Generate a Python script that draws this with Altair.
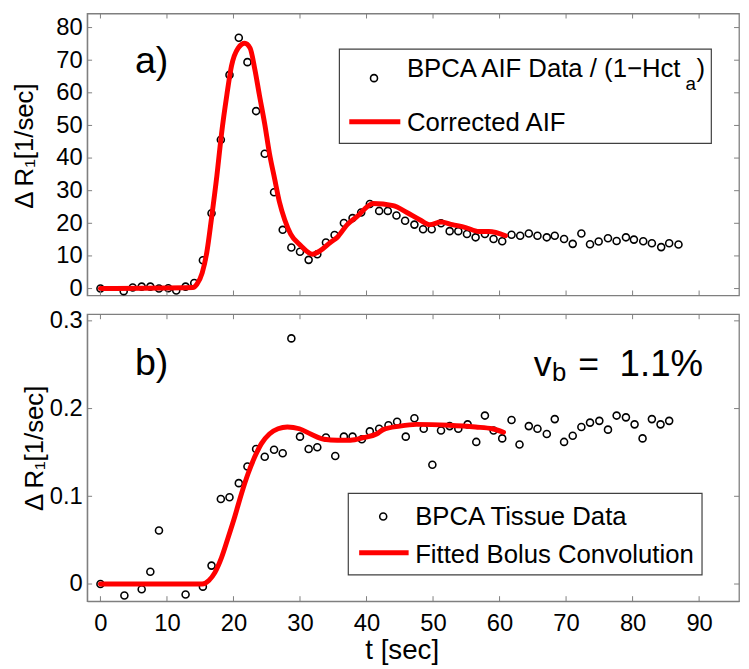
import altair as alt
import pandas as pd

# ---------------- data ----------------
t_aif = [0, 3.5, 4.85, 6.2, 7.5, 8.8, 10.2, 11.4, 12.8, 14.1,
         15.4, 16.7, 18.1, 19.4, 20.8, 22.1, 23.4, 24.7, 26.1, 27.4,
         28.7, 30.0, 31.3, 32.6, 33.9, 35.2, 36.6, 37.9, 39.2, 40.5,
         41.9, 43.2, 44.5, 45.8, 47.2, 48.5, 49.8, 51.2, 52.5, 53.8,
         55.1, 56.4, 57.8, 59.1, 60.4, 61.8, 63.1, 64.4, 65.7, 67.1,
         68.3, 69.7, 71.0, 72.3, 73.6, 74.9, 76.3, 77.6, 79.0, 80.2,
         81.6, 82.9, 84.3, 85.5, 86.9]
v_aif = [0, -0.8, 0.3, 0.6, 0.6, 0, 0.1, -0.6, 0.6, 1.7,
         8.7, 23.1, 45.6, 65.5, 76.9, 69.4, 54.4, 41.3, 29.5, 18.0,
         12.6, 11.3, 8.8, 10.5, 14.1, 16.4, 20.1, 21.6, 23.3, 25.9,
         23.8, 23.8, 22.4, 20.8, 19.6, 18.2, 18.2, 20.0, 17.6, 17.6,
         16.7, 15.7, 16.7, 15.2, 14.5, 16.5, 16.2, 16.9, 16.2, 15.7,
         16.2, 15.2, 13.7, 16.9, 13.6, 14.4, 15.4, 14.6, 15.7, 15.0,
         14.5, 13.9, 12.7, 13.9, 13.5]

t_fit = [0, 13.9, 14.5, 15.3, 16.0, 16.7, 17.5, 18.2, 19.0, 19.7,
         20.7, 21.7, 22.5, 23.2, 23.9, 24.7, 25.4, 26.2, 26.9, 27.7,
         28.6, 30.1, 31.9, 33.1, 34.6, 35.6, 37.1, 38.6, 41.0, 44.0,
         46.0, 48.0, 49.5, 51.2, 52.9, 54.9, 56.9, 58.4, 60.9]
v_fit = [0, 0.3, 1.3, 4.8, 11.2, 21.6, 34.5, 47.4, 59.3, 68.2,
         73.7, 75.2, 73.7, 67.3, 59.3, 50.4, 41.5, 33.5, 26.6, 21.1,
         16.7, 13.2, 10.5, 11.7, 14.2, 15.7, 19.6, 22.1, 26.1, 25.4,
         23.4, 21.1, 19.6, 20.4, 19.6, 18.7, 17.5, 17.5, 16.2]

t_tis = [0, 3.6, 6.2, 7.5, 8.8, 12.8, 15.4, 16.7, 18.1, 19.4,
         20.8, 22.1, 23.4, 24.7, 26.1, 27.4, 28.7, 30.0, 31.3, 32.6,
         33.9, 35.3, 36.6, 37.9, 39.3, 40.5, 41.9, 43.3, 44.6, 45.9,
         47.2, 48.6, 49.9, 51.2, 52.5, 53.8, 55.2, 56.5, 57.8, 59.1,
         60.4, 61.8, 63.0, 64.4, 65.7, 67.1, 68.3, 69.7, 71.0, 72.3,
         73.6, 75.0, 76.3, 77.6, 79.0, 80.3, 81.5, 82.9, 84.2, 85.5]
v_tis = [0, -0.013, -0.006, 0.014, 0.061, -0.012, -0.003, 0.021, 0.097, 0.099,
         0.115, 0.134, 0.154, 0.145, 0.153, 0.149, 0.280, 0.168, 0.154, 0.156,
         0.167, 0.146, 0.168, 0.168, 0.165, 0.174, 0.177, 0.181, 0.185, 0.168,
         0.189, 0.177, 0.136, 0.175, 0.180, 0.177, 0.182, 0.162, 0.192, 0.175,
         0.166, 0.187, 0.159, 0.180, 0.177, 0.171, 0.188, 0.162, 0.169, 0.179,
         0.184, 0.186, 0.176, 0.192, 0.190, 0.182, 0.166, 0.188, 0.182, 0.186]

t_bc = [0, 15.3, 16.3, 17.2, 18.2, 19.2, 20.2, 21.2, 22.2, 23.2,
        24.2, 25.4, 26.7, 28.1, 29.9, 31.6, 33.6, 35.6, 37.6, 39.6,
        41.5, 42.5, 45.0, 47.5, 52.4, 56.4, 58.9, 60.6]
v_bc = [0, 0, 0.004, 0.013, 0.030, 0.053, 0.077, 0.103, 0.126, 0.145,
        0.160, 0.171, 0.177, 0.179, 0.177, 0.171, 0.165, 0.164, 0.164, 0.167,
        0.171, 0.176, 0.180, 0.182, 0.181, 0.179, 0.177, 0.173]

x_ticks = [0, 10, 20, 30, 40, 50, 60, 70, 80, 90]
y_ticks_a = [0, 10, 20, 30, 40, 50, 60, 70, 80]
y_ticks_b = [0, 0.1, 0.2, 0.3]

legend_a = ["BPCA AIF Data / (1\u2212Hct", "a", ")", "Corrected AIF"]
legend_b = ["BPCA Tissue Data", "Fitted Bolus Convolution"]
y_title = "\u0394\u2009R\u2081[1/sec]"
x_title = "t [sec]"

# ---------------- styling ----------------
W = 659
H_A = 285
H_B = 290
GREY = "#7f7f7f"
BOX = "#404040"
RED = "#ff0000"
FONT = "Liberation Sans"
X_DOM = [-2, 96]
PT_SIZE = 50
ONE = pd.DataFrame({"k": [0]})


def txt(s, x, y, size, align="left", baseline="alphabetic"):
    return alt.Chart(ONE).mark_text(
        text=s, font=FONT, fontSize=size, align=align, baseline=baseline, color="black"
    ).encode(x=alt.value(x), y=alt.value(y))


def panel(t_pts, v_pts, t_line, v_line, ydom, yticks, yfmt, H, show_x, ytx, yty, extras):
    xs = alt.Scale(domain=X_DOM, nice=False, zero=False)
    ys = alt.Scale(domain=ydom, nice=False, zero=False)
    pts = pd.DataFrame({"t": t_pts, "v": v_pts})
    fit = pd.DataFrame({"t": t_line, "v": v_line})
    if show_x:
        xaxis = alt.Axis(values=x_ticks, format="d", labelPadding=11, title=x_title,
                         titleFontSize=28, titleX=318, titleY=50, titleBaseline="middle",
                         titleAlign="center")
    else:
        xaxis = None
    yaxis = alt.Axis(values=yticks, format=yfmt, title=y_title, titleFontSize=26,
                     titleX=ytx, titleY=yty, titleAngle=270, titleBaseline="middle",
                     titleAlign="center")
    X = alt.X("t:Q", scale=xs, axis=xaxis)
    Y = alt.Y("v:Q", scale=ys, axis=yaxis)
    points = alt.Chart(pts).mark_point(
        shape="circle", filled=False, size=PT_SIZE, strokeWidth=1.6, color="black", opacity=1
    ).encode(x=X, y=Y)
    line = alt.Chart(fit).mark_line(
        color=RED, strokeWidth=5, interpolate="monotone", strokeCap="round", strokeJoin="round"
    ).encode(x=X, y=Y)
    xt = pd.DataFrame({"t": x_ticks})
    yt = pd.DataFrame({"v": yticks})
    xtick_b = alt.Chart(xt).mark_rule(color=GREY, strokeWidth=1).encode(
        x=X, y=alt.value(H), y2=alt.value(H - 5))
    xtick_t = alt.Chart(xt).mark_rule(color=GREY, strokeWidth=1).encode(
        x=X, y=alt.value(0), y2=alt.value(5))
    ytick_l = alt.Chart(yt).mark_rule(color=GREY, strokeWidth=1).encode(
        y=Y, x=alt.value(0), x2=alt.value(5))
    ytick_r = alt.Chart(yt).mark_rule(color=GREY, strokeWidth=1).encode(
        y=Y, x=alt.value(W), x2=alt.value(W - 5))
    return alt.layer(points, line, xtick_b, xtick_t, ytick_l, ytick_r, *extras).properties(
        width=W, height=H)


def legend(box, circ, redline):
    rect = alt.Chart(ONE).mark_rect(fill="white", stroke=BOX, strokeWidth=1.2).encode(
        x=alt.value(box[0]), x2=alt.value(box[1]), y=alt.value(box[2]), y2=alt.value(box[3]))
    c = alt.Chart(ONE).mark_point(shape="circle", filled=False, size=PT_SIZE, strokeWidth=1.6,
                                  color="black", opacity=1).encode(
        x=alt.value(circ[0]), y=alt.value(circ[1]))
    r = alt.Chart(ONE).mark_rule(color=RED, strokeWidth=5).encode(
        x=alt.value(redline[0]), x2=alt.value(redline[1]), y=alt.value(redline[2]))
    return [rect, c, r]


# ---- panel a ----
extras_a = legend((255, 631, 36, 131.3), (290, 65.3), (265, 316.6, 109.3))
extras_a += [
    txt(legend_a[0], 323.3, 64.6, 26),
    txt(legend_a[1], 605, 77, 19),
    txt(legend_a[2], 616, 64.6, 26),
    txt(legend_a[3], 323.3, 118.6, 26),
    txt("a)", 48.3, 60.3, 38),
]
top = panel(t_aif, v_aif, t_fit, v_fit, [-2.12, 84.3], y_ticks_a, "d", H_A, False, -63, 133.5,
            extras_a)

# ---- panel b ----
extras_b = legend((264, 621.6, 181, 263.4), (299.3, 204.4), (275, 325, 241))
extras_b += [
    txt(legend_b[0], 331.6, 212.8, 26),
    txt(legend_b[1], 331.6, 251.2, 26),
    txt("b)", 48.3, 61, 38),
    txt("v", 451.6, 62.7, 36),
    txt("b", 470, 67.7, 26),
    txt("=", 496.6, 62.7, 36),
    txt("1.1%", 538.3, 62.7, 37),
]
bottom = panel(t_tis, v_tis, t_bc, v_bc, [-0.0195, 0.3075], y_ticks_b, ".1~f", H_B, True, -53, 135,
               extras_b)

chart = alt.vconcat(top, bottom, spacing=19, bounds="flush").properties(
    padding={"left": 3, "top": 0, "right": 0, "bottom": 0}
).configure_view(stroke=GREY, strokeWidth=1.3).configure_axis(
    domainColor=GREY, domainWidth=1.3, ticks=False, grid=False,
    labelFont=FONT, labelFontSize=24, labelColor="black", labelPadding=5,
    titleFont=FONT, titleColor="black", titleFontWeight="normal")

chart.save("out.html", embed_options={"renderer": "svg", "actions": False})
